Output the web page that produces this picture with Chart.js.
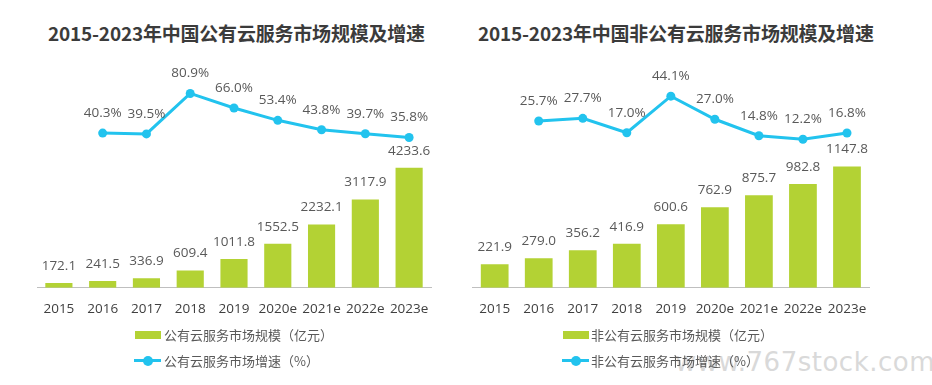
<!DOCTYPE html>
<html>
<head>
<meta charset="utf-8">
<script src="https://cdn.jsdelivr.net/npm/chart.js@4/dist/chart.umd.min.js"></script>
<style>
  html, body { margin:0; padding:0; background:#fff; }
  body { width:932px; height:385px; position:relative; overflow:hidden; font-family:'Open Sans','Noto Sans CJK SC',sans-serif; }
  .panel { position:absolute; top:55px; width:466px; height:276px; }
  .title { position:absolute; top:22px; line-height:22px; font-size:19px; font-weight:bold; color:#3b3b3b; white-space:nowrap; font-family:'Noto Sans CJK SC',sans-serif; letter-spacing:-0.2px; }
  .leg { position:absolute; font-size:13px; color:#595959; line-height:18px; white-space:nowrap; font-family:'Noto Sans CJK SC',sans-serif; }
  .sw-bar { position:absolute; width:26px; height:8px; background:#b3d234; }
  .sw-line { position:absolute; width:27px; height:3px; background:#22c3ee; }
  .sw-line::after { content:''; position:absolute; left:9px; top:-3.5px; width:10px; height:10px; border-radius:50%; background:#22c3ee; }
  .wm { position:absolute; right:-3px; top:347px; font-size:26px; color:#d9d9d9; font-family:'DejaVu Sans',sans-serif; letter-spacing:0.5px; }
</style>
</head>
<body>
<div class="title" style="left:48px">2015-2023年中国公有云服务市场规模及增速</div>
<div class="title" style="left:478px">2015-2023年中国非公有云服务市场规模及增速</div>

<div class="panel" style="left:0"><canvas id="c1" width="466" height="276"></canvas></div>
<div class="panel" style="left:466px"><canvas id="c2" width="466" height="276"></canvas></div>

<div class="wm">www.767stock.com</div>

<div class="sw-bar" style="left:135px;top:331px"></div>
<div class="leg" style="left:164px;top:326px">公有云服务市场规模（亿元）</div>
<div class="sw-line" style="left:134px;top:359px"></div>
<div class="leg" style="left:164px;top:352px">公有云服务市场增速（%）</div>

<div class="sw-bar" style="left:563px;top:331px"></div>
<div class="leg" style="left:591px;top:326px">非公有云服务市场规模（亿元）</div>
<div class="sw-line" style="left:562px;top:359px"></div>
<div class="leg" style="left:591px;top:352px">非公有云服务市场增速（%）</div>

<script>
const years = ['2015','2016','2017','2018','2019','2020e','2021e','2022e','2023e'];
const publicSize = [172.1, 241.5, 336.9, 609.4, 1011.8, 1552.5, 2232.1, 3117.9, 4233.6];
const publicGrowth = [null, 40.3, 39.5, 80.9, 66.0, 53.4, 43.8, 39.7, 35.8];
const privateSize = [221.9, 279.0, 356.2, 416.9, 600.6, 762.9, 875.7, 982.8, 1147.8];
const privateGrowth = [null, 25.7, 27.7, 17.0, 44.1, 27.0, 14.8, 12.2, 16.8];

const GREEN = '#b3d234';
const CYAN = '#22c3ee';
const FONT = "'Open Sans','Noto Sans CJK SC',sans-serif";

const valueLabels = {
  id: 'valueLabels',
  afterDatasetsDraw(chart) {
    const ctx = chart.ctx;
    ctx.save();
    ctx.font = '13.5px ' + FONT;
    ctx.fillStyle = '#595959';
    ctx.textAlign = 'center';
    ctx.textBaseline = 'middle';
    chart.data.datasets.forEach((ds, i) => {
      const meta = chart.getDatasetMeta(i);
      meta.data.forEach((el, j) => {
        const v = ds.data[j];
        if (v === null || v === undefined) return;
        if (ds.type === 'line') {
          ctx.fillText(v.toFixed(1) + '%', el.x, el.y - 20);
        } else {
          ctx.fillText(v.toFixed(1), el.x, el.y - 17);
        }
      });
    });
    ctx.restore();
  }
};

function makeChart(id, sizes, growth, padL, padR, barMax, lineMin, lineMax, barPct) {
  return new Chart(document.getElementById(id), {
    data: {
      labels: years,
      datasets: [
        { type:'line', data: growth, yAxisID:'y1', order:0,
          borderColor: CYAN, backgroundColor: CYAN, borderWidth:3,
          pointRadius:4.5, pointBackgroundColor: CYAN, pointBorderWidth:0,
          tension:0, spanGaps:false },
        { type:'bar', data: sizes, yAxisID:'y', order:1,
          backgroundColor: GREEN, borderWidth:0,
          categoryPercentage: 1, barPercentage: barPct }
      ]
    },
    options: {
      responsive:false,
      animation:false,
      devicePixelRatio:1,
      layout: { padding: { left:padL, right:padR, top:15, bottom:1 } },
      plugins: { legend:{display:false}, tooltip:{enabled:false}, title:{display:false} },
      scales: {
        x: {
          grid: { display:false, drawTicks:false },
          border: { display:true, color:'#bfbfbf', width:1 },
          ticks: { padding:13, color:'#404040', maxRotation:0, minRotation:0, autoSkip:false,
                   font:{ size:13.5, family:FONT } }
        },
        y: { display:false, min:0, max:barMax },
        y1: { display:false, min:lineMin, max:lineMax }
      }
    },
    plugins: [valueLabels]
  });
}

makeChart('c1', publicSize, publicGrowth, 37, 35, 7684, -118, 104.9, 0.62);
makeChart('c2', privateSize, privateGrowth, 2, 63, 2061, -97.9, 63.5, 0.63);
</script>
</body>
</html>
